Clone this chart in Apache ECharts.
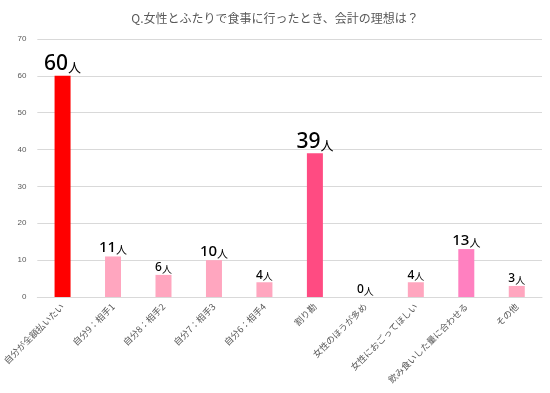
<!DOCTYPE html>
<html><head><meta charset="utf-8">
<script src="https://cdn.jsdelivr.net/npm/echarts@6/dist/echarts.min.js"></script>
<style>html,body{margin:0;padding:0;background:#fff}#c{width:550px;height:393px}</style>
</head><body><div id="c"></div>
<script>
const categories = ['自分が全額払いたい','自分9：相手1','自分8：相手2','自分7：相手3','自分6：相手4','割り勘','女性のほうが多め','女性におごってほしい','飲み食いした量に合わせる','その他'];
const values = [60, 11, 6, 10, 4, 39, 0, 4, 13, 3];
const barColors = ['#FF0000','#FFA6BF','#FFA6BF','#FFA6BF','#FFA6BF','#FF4B82','#FFA6BF','#FFA6BF','#FF80C0','#FFA6BF'];
const labelSizes = ['big','mid','small','mid','small','big','small','small','mid','small'];
const yTicks = [0,10,20,30,40,50,60,70];

const chart = echarts.init(document.getElementById('c'));
chart.setOption({
  animation:false,
  title:{text:'Q.女性とふたりで食事に行ったとき、会計の理想は？',left:'center',top:7,
    textStyle:{fontSize:12,fontWeight:'normal',color:'#595959',fontFamily:'Noto Sans CJK JP'}},
  grid:{left:37,right:8,top:39,bottom:96},
  xAxis:{type:'category',data:categories,
    axisLine:{lineStyle:{color:'#d9d9d9'}},axisTick:{show:false},
    axisLabel:{rotate:45,interval:0,fontSize:9,color:'#595959',margin:8,fontFamily:'Noto Sans CJK JP'}},
  yAxis:{type:'value',min:yTicks[0],max:yTicks[yTicks.length-1],interval:10,
    axisLine:{show:false},axisTick:{show:false},
    splitLine:{lineStyle:{color:'#d9d9d9'}},
    axisLabel:{fontSize:8,color:'#595959',margin:11}},
  series:[{type:'bar',barWidth:16,
    data:values.map((v,i)=>({value:v,itemStyle:{color:barColors[i]},
      label:{formatter:'{'+labelSizes[i]+'|'+v+'}{u'+labelSizes[i]+'|人}'}})),
    label:{show:true,position:'top',distance:1,
      rich:{
        big:{fontSize:21,color:'#000',fontFamily:'Noto Sans',fontWeight:500},
        ubig:{fontSize:13,color:'#000',fontFamily:'Noto Sans CJK JP',padding:[6,0,0,0]},
        mid:{fontSize:15,color:'#000',fontFamily:'Noto Sans',fontWeight:500},
        umid:{fontSize:11,color:'#000',fontFamily:'Noto Sans CJK JP',padding:[4,0,0,0]},
        small:{fontSize:12,color:'#000',fontFamily:'Noto Sans',fontWeight:500},
        usmall:{fontSize:10,color:'#000',fontFamily:'Noto Sans CJK JP',padding:[2,0,0,0]}
      }}
  }]
});
</script></body></html>
